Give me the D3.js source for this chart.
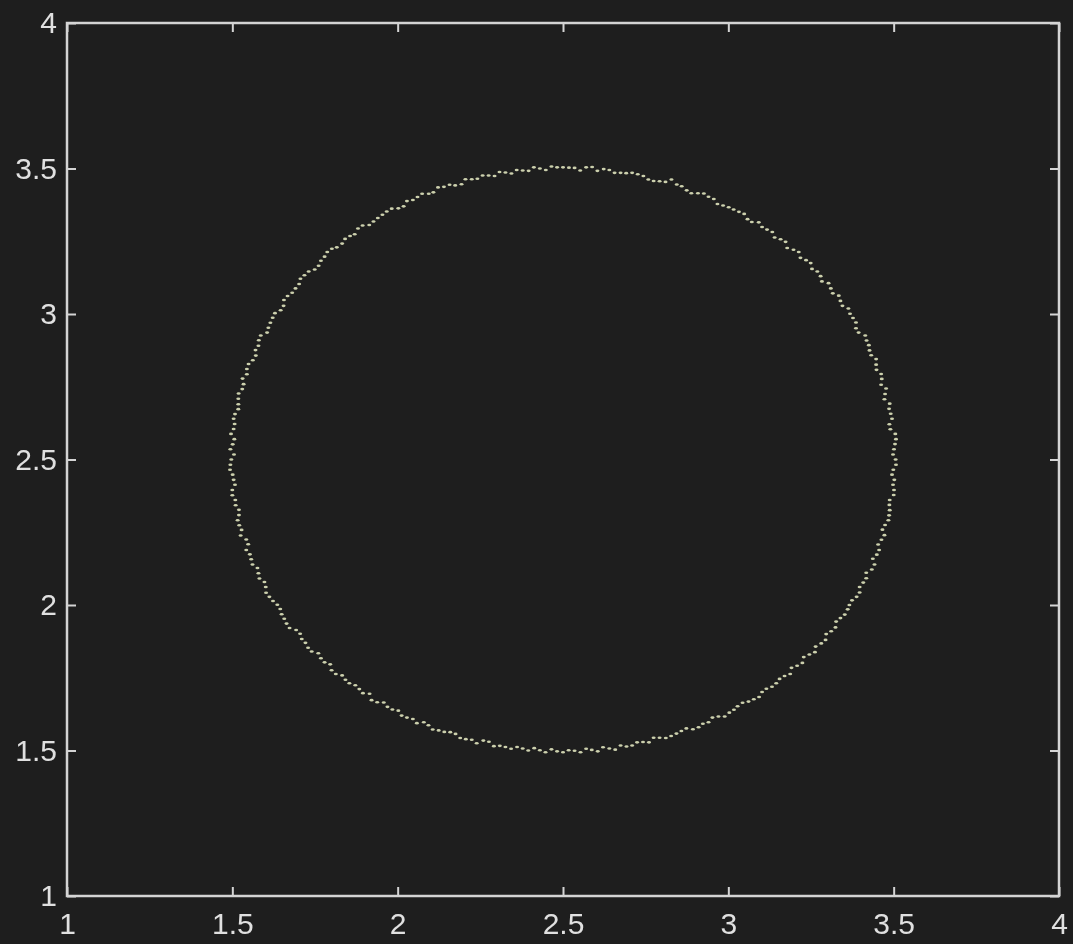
<!DOCTYPE html>
<html>
<head>
<meta charset="utf-8">
<script src="https://cdn.jsdelivr.net/npm/d3@7"></script>
<style>
  html, body { margin: 0; padding: 0; background: #1e1e1e; }
  svg { display: block; }
</style>
</head>
<body>
<script>
// Axis ranges and tick labels
const xDomain = [1, 4];
const yDomain = [1, 4];
const xTicks = [1, 1.5, 2, 2.5, 3, 3.5, 4];
const yTicks = [1, 1.5, 2, 2.5, 3, 3.5, 4];

// Ring samples, first pass (x values)
const xsA = [
  3.506, 3.501, 3.507, 3.490, 3.495, 3.486, 3.472, 3.477, 3.464, 3.448,
  3.447, 3.427, 3.418, 3.394, 3.386, 3.368, 3.345, 3.334, 3.310, 3.283,
  3.269, 3.249, 3.218, 3.197, 3.173, 3.140, 3.117, 3.092, 3.058, 3.032,
  3.001, 2.967, 2.940, 2.908, 2.874, 2.844, 2.810, 2.774, 2.743, 2.709,
  2.674, 2.640, 2.604, 2.570, 2.535,
  2.500, 2.465, 2.430, 2.396, 2.360, 2.326, 2.293, 2.257, 2.224, 2.193,
  2.157, 2.122, 2.094, 2.060, 2.028, 2.002, 1.967, 1.940, 1.914, 1.880,
  1.856, 1.832, 1.801, 1.779, 1.761, 1.731, 1.706, 1.691, 1.667, 1.655,
  1.629, 1.615, 1.605, 1.580, 1.570, 1.562, 1.544, 1.531, 1.530, 1.518,
  1.518, 1.504, 1.504, 1.506, 1.494,
  1.497, 1.493, 1.504, 1.500, 1.509, 1.520, 1.516, 1.528, 1.542, 1.542,
  1.557, 1.576, 1.582, 1.601, 1.612, 1.636, 1.649, 1.664, 1.693, 1.710,
  1.729, 1.760, 1.779, 1.800, 1.832, 1.854, 1.884, 1.915, 1.938, 1.969,
  2.002, 2.028, 2.058, 2.093, 2.124, 2.159, 2.189, 2.224, 2.259, 2.291,
  2.326, 2.361, 2.395, 2.430, 2.465,
  2.500, 2.535, 2.570, 2.605, 2.640, 2.674, 2.709, 2.742, 2.774, 2.811,
  2.843, 2.873, 2.910, 2.940, 2.970, 3.003, 3.028, 3.061, 3.093, 3.115,
  3.145, 3.170, 3.191, 3.224, 3.245, 3.264, 3.294, 3.311, 3.326, 3.352,
  3.366, 3.388, 3.397, 3.417, 3.434, 3.437, 3.456, 3.463, 3.466, 3.484,
  3.488, 3.488, 3.501, 3.502, 3.499
];

// Ring samples, first pass (y values)
const ysA = [
  2.500, 2.535, 2.570, 2.604, 2.640, 2.674, 2.707, 2.744, 2.777, 2.808,
  2.845, 2.875, 2.909, 2.936, 2.971, 3.001, 3.028, 3.063, 3.088, 3.112,
  3.146, 3.175, 3.193, 3.221, 3.248, 3.263, 3.290, 3.315, 3.326, 3.351,
  3.367, 3.378, 3.403, 3.415, 3.425, 3.445, 3.454, 3.457, 3.474, 3.485,
  3.485, 3.495, 3.492, 3.504, 3.502,
  3.504, 3.507, 3.500, 3.492, 3.495, 3.486, 3.474, 3.476, 3.463, 3.446,
  3.444, 3.435, 3.413, 3.402, 3.388, 3.363, 3.352, 3.330, 3.306, 3.294,
  3.268, 3.242, 3.224, 3.197, 3.166, 3.146, 3.121, 3.088, 3.062, 3.028,
  3.003, 2.970, 2.936, 2.910, 2.876, 2.841, 2.811, 2.778, 2.742, 2.709,
  2.673, 2.640, 2.605, 2.570, 2.535,
  2.500, 2.465, 2.430, 2.395, 2.361, 2.327, 2.291, 2.258, 2.225, 2.189,
  2.157, 2.127, 2.091, 2.062, 2.028, 2.001, 1.968, 1.936, 1.914, 1.883,
  1.853, 1.834, 1.803, 1.776, 1.758, 1.731, 1.711, 1.695, 1.666, 1.650,
  1.637, 1.613, 1.594, 1.587, 1.569, 1.563, 1.543, 1.537, 1.534, 1.515,
  1.512, 1.512, 1.500, 1.501, 1.504,
  1.494, 1.499, 1.506, 1.497, 1.507, 1.517, 1.517, 1.529, 1.544, 1.543,
  1.558, 1.576, 1.580, 1.597, 1.617, 1.630, 1.652, 1.668, 1.684, 1.712,
  1.731, 1.756, 1.784, 1.801, 1.830, 1.857, 1.880, 1.910, 1.943, 1.967,
  2.000, 2.028, 2.062, 2.092, 2.122, 2.159, 2.189, 2.224, 2.259, 2.291,
  2.326, 2.361, 2.395, 2.430, 2.465
];

// Ring samples, second pass (x values)
const xsB = [
  3.498, 3.504, 3.505, 3.487, 3.491, 3.488, 3.474, 3.462, 3.462, 3.447,
  3.432, 3.425, 3.414, 3.386, 3.377, 3.363, 3.339, 3.316, 3.303, 3.279,
  3.253, 3.235, 3.213, 3.178, 3.158, 3.133, 3.102, 3.071, 3.048, 3.016,
  2.984, 2.956, 2.926, 2.888, 2.859, 2.828, 2.792, 2.758, 2.726, 2.691,
  2.656, 2.623, 2.588, 2.552, 2.518,
  2.482, 2.448, 2.412, 2.378, 2.344, 2.308, 2.275, 2.241, 2.205, 2.174,
  2.140, 2.108, 2.074, 2.046, 2.018, 1.982, 1.954, 1.927, 1.894, 1.870,
  1.841, 1.816, 1.787, 1.768, 1.749, 1.718, 1.702, 1.681, 1.656, 1.646,
  1.622, 1.609, 1.586, 1.579, 1.571, 1.549, 1.544, 1.534, 1.519, 1.518,
  1.508, 1.507, 1.496, 1.501, 1.505,
  1.494, 1.501, 1.508, 1.500, 1.510, 1.520, 1.521, 1.525, 1.548, 1.553,
  1.561, 1.579, 1.597, 1.602, 1.623, 1.645, 1.657, 1.673, 1.705, 1.721,
  1.740, 1.768, 1.796, 1.813, 1.842, 1.872, 1.895, 1.921, 1.958, 1.984,
  2.012, 2.046, 2.079, 2.106, 2.141, 2.175, 2.206, 2.239, 2.276, 2.309,
  2.343, 2.378, 2.413, 2.447, 2.482,
  2.517, 2.553, 2.587, 2.621, 2.658, 2.692, 2.724, 2.760, 2.792, 2.827,
  2.858, 2.893, 2.923, 2.952, 2.989, 3.017, 3.043, 3.077, 3.102, 3.132,
  3.155, 3.187, 3.208, 3.228, 3.262, 3.281, 3.296, 3.324, 3.339, 3.361,
  3.374, 3.397, 3.408, 3.417, 3.442, 3.449, 3.453, 3.472, 3.474, 3.486,
  3.487, 3.500, 3.498, 3.495, 3.507
];

// Ring samples, second pass (y values)
const ysB = [
  2.517, 2.553, 2.588, 2.621, 2.657, 2.692, 2.725, 2.757, 2.794, 2.826,
  2.858, 2.893, 2.926, 2.951, 2.986, 3.019, 3.045, 3.071, 3.106, 3.130,
  3.155, 3.185, 3.213, 3.227, 3.257, 3.282, 3.299, 3.316, 3.344, 3.359,
  3.373, 3.395, 3.414, 3.415, 3.439, 3.462, 3.456, 3.462, 3.480, 3.484,
  3.485, 3.498, 3.505, 3.493, 3.503,
  3.504, 3.495, 3.504, 3.493, 3.483, 3.488, 3.476, 3.465, 3.463, 3.442,
  3.437, 3.418, 3.413, 3.392, 3.370, 3.362, 3.341, 3.318, 3.304, 3.274,
  3.258, 3.229, 3.213, 3.183, 3.153, 3.133, 3.103, 3.073, 3.048, 3.013,
  2.987, 2.953, 2.926, 2.891, 2.857, 2.828, 2.793, 2.759, 2.727, 2.690,
  2.656, 2.622, 2.588, 2.552, 2.517,
  2.482, 2.448, 2.413, 2.377, 2.343, 2.309, 2.274, 2.239, 2.209, 2.174,
  2.139, 2.109, 2.079, 2.042, 2.014, 1.986, 1.953, 1.921, 1.901, 1.870,
  1.840, 1.817, 1.796, 1.763, 1.743, 1.724, 1.697, 1.673, 1.665, 1.641,
  1.620, 1.608, 1.597, 1.572, 1.564, 1.557, 1.539, 1.525, 1.530, 1.516,
  1.506, 1.507, 1.508, 1.494, 1.497,
  1.501, 1.494, 1.502, 1.511, 1.503, 1.514, 1.528, 1.528, 1.544, 1.550,
  1.567, 1.573, 1.592, 1.613, 1.617, 1.640, 1.664, 1.676, 1.701, 1.719,
  1.746, 1.763, 1.791, 1.821, 1.838, 1.868, 1.900, 1.923, 1.955, 1.985,
  2.016, 2.043, 2.077, 2.111, 2.139, 2.173, 2.208, 2.240, 2.275, 2.308,
  2.344, 2.378, 2.413, 2.448, 2.482
];

const W = 1073, H = 944;
const plot = { left: 67, right: 1059, top: 23, bottom: 896 };
const axisColor = "#d4d4d4";
const dotColor = "#dfe3bd";

const svg = d3.select("body").append("svg")
  .attr("width", W).attr("height", H)
  .style("background", "#1e1e1e");

svg.append("rect").attr("width", W).attr("height", H).attr("fill", "#1e1e1e");

const defs = svg.append("defs");
defs.append("filter").attr("id", "soft")
  .append("feGaussianBlur").attr("stdDeviation", 0.5);

const x = d3.scaleLinear().domain(xDomain).range([plot.left, plot.right]);
const y = d3.scaleLinear().domain(yDomain).range([plot.bottom, plot.top]);

const tickLen = 9;
const fmt = d => String(d);

function styleAxis(g, showText) {
  g.select(".domain").remove();
  g.selectAll(".tick line").attr("stroke", axisColor).attr("stroke-width", 2);
  g.selectAll(".tick text")
    .attr("fill", showText ? "#e0e0e0" : "none")
    .style("font-family", "'Liberation Sans', Arial, sans-serif")
    .style("font-size", "30px");
}

const gAxes = svg.append("g").attr("filter", "url(#soft)");

gAxes.append("g")
  .attr("transform", `translate(0,${plot.bottom})`)
  .call(d3.axisBottom(x).tickValues(xTicks).tickFormat(fmt).tickSize(-tickLen).tickPadding(17))
  .call(g => styleAxis(g, true));

gAxes.append("g")
  .attr("transform", `translate(${plot.left},0)`)
  .call(d3.axisLeft(y).tickValues(yTicks).tickFormat(fmt).tickSize(-tickLen).tickPadding(10))
  .call(g => styleAxis(g, true));

gAxes.append("g")
  .attr("transform", `translate(0,${plot.top})`)
  .call(d3.axisTop(x).tickValues(xTicks).tickFormat("").tickSize(-tickLen))
  .call(g => styleAxis(g, false));

gAxes.append("g")
  .attr("transform", `translate(${plot.right},0)`)
  .call(d3.axisRight(y).tickValues(yTicks).tickFormat("").tickSize(-tickLen))
  .call(g => styleAxis(g, false));

// Plot box
gAxes.append("rect")
  .attr("x", x(xDomain[0])).attr("y", y(yDomain[1]))
  .attr("width", x(xDomain[1]) - x(xDomain[0]))
  .attr("height", y(yDomain[0]) - y(yDomain[1]))
  .attr("fill", "none").attr("stroke", axisColor).attr("stroke-width", 2.5);

// Scatter points, drawn as short horizontal smudges
const xsAll = xsA.concat(xsB);
const ysAll = ysA.concat(ysB);
const pts = xsAll.map((v, i) => ({ x: v, y: ysAll[i] }));
svg.append("g").attr("filter", "url(#soft)")
  .selectAll("ellipse").data(pts).join("ellipse")
  .attr("cx", d => x(d.x))
  .attr("cy", d => y(d.y))
  .attr("rx", 2)
  .attr("ry", 1.3)
  .attr("fill", dotColor)
  .attr("fill-opacity", 0.9);
</script>
</body>
</html>
